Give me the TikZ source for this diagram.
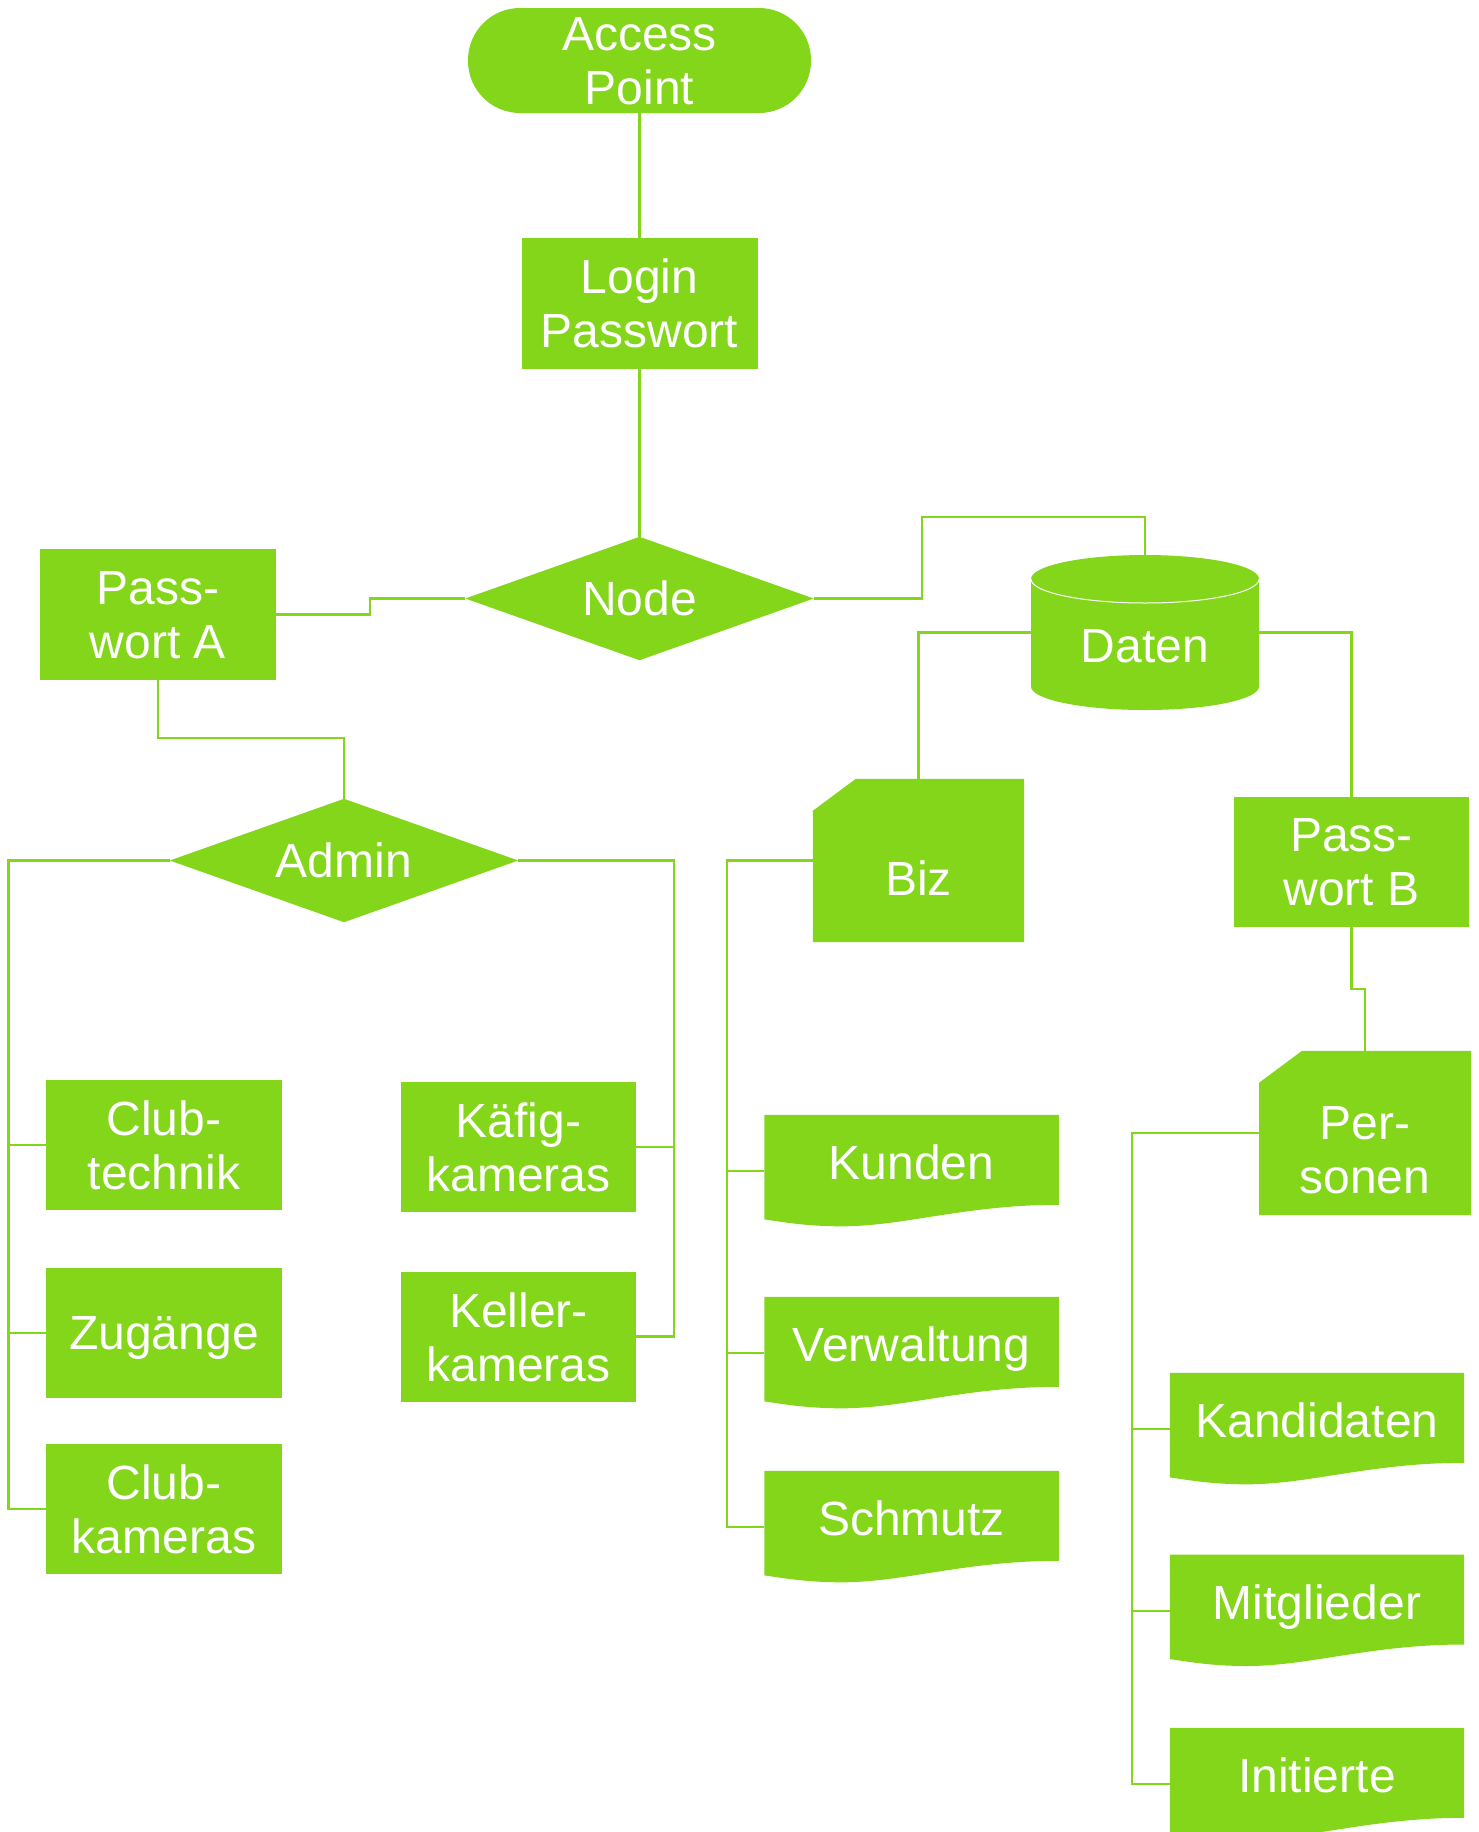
\documentclass[tikz,border=0pt]{standalone}
\usepackage{fontspec}
\setmainfont{Liberation Sans}
\usetikzlibrary{calc}
\definecolor{brand}{RGB}{131,214,26}
\newcommand\docfill[1]{\fill[brand] (#1.north west) -- (#1.north east) -- ++(0,90) .. controls +(-94,0) and +(63,0) .. ($(#1.north west)+(77,111.5)$) .. controls +(-37,0) and +(15,2) .. ($(#1.north west)+(0,104.6)$) -- cycle;}
\newcommand\cardfill[1]{\fill[brand] ($(#1.north west)+(0,32)$) -- ($(#1.north west)+(43,0)$) -- (#1.north east) -- (#1.south east) -- (#1.south west) -- cycle;}
\newcommand\diafill[1]{\fill[brand] (#1.west) -- (#1.north) -- (#1.east) -- (#1.south) -- cycle;}
\begin{document}
\begin{tikzpicture}[x=1pt,y=-1pt,
  lbl/.style={text=white,font=\fontsize{48}{54}\selectfont,align=center,inner sep=0pt,text depth=0pt},
  boxn/.style={lbl,fill=brand,minimum width=#1},
  ghost/.style={inner sep=0pt,minimum width=#1},
  conn/.style={draw=brand,line width=2.4pt}]
\useasboundingbox (0,0) rectangle (1479,1832);

% top
\node[boxn=343pt,minimum height=105pt,rounded corners=52pt] (ap) at (639.5,60.5) {Access\\Point};
\node[boxn=236pt,minimum height=131pt] (login) at (639.5,303.5) {Login\\Passwort};
\node[ghost=348pt,minimum height=123pt] (nodeD) at (639.5,598.5) {};
\diafill{nodeD}
\node[lbl] (t-node) at (nodeD.center) {Node};
\node[boxn=236pt,minimum height=131pt] (passA) at (158,614.5) {Pass-\\wort A};

% Daten cylinder
\node[ghost=228pt,minimum height=155pt] (daten) at (1145,632.5) {};
\fill[brand] (1031,579) -- (1031,686.5) arc[start angle=180,end angle=360,x radius=114pt,y radius=23.5pt] -- (1259,579) arc[start angle=0,end angle=180,x radius=114pt,y radius=24pt] -- cycle;
\draw[white,line width=1pt] (1031,579) arc[start angle=180,end angle=360,x radius=114pt,y radius=24pt];
\node[lbl] (t-daten) at (1145,646) {Daten};

% Biz and Passwort B
\node[ghost=211pt,minimum height=163pt] (biz) at (918.5,860.5) {};
\cardfill{biz}
\node[lbl] (t-biz) at (918.5,878) {Biz};
\node[boxn=235pt,minimum height=130.5pt] (passB) at (1351.5,862) {Pass-\\wort B};
\node[ghost=211.6pt,minimum height=164pt] (pers) at (1365,1133) {};
\cardfill{pers}
\node[lbl] (t-pers) at (1365,1150) {Per-\\sonen};

% Admin branch
\node[ghost=348pt,minimum height=123pt] (admin) at (344,860.5) {};
\diafill{admin}
\node[lbl] (t-admin) at (admin.center) {Admin};
\node[boxn=236pt,minimum height=130pt] (clubt) at (164,1145) {Club-\\technik};
\node[boxn=236pt,minimum height=130pt] (zug) at (164,1333) {Zugänge};
\node[boxn=236pt,minimum height=130pt] (clubk) at (164,1509) {Club-\\kameras};
\node[boxn=235pt,minimum height=130pt] (kaefig) at (518.5,1147) {Käfig-\\kameras};
\node[boxn=235pt,minimum height=130pt] (keller) at (518.5,1336.6) {Keller-\\kameras};

% document shapes
\node[ghost=294pt,minimum height=112pt] (kunden) at (911.6,1171) {};
\node[ghost=294pt,minimum height=112pt] (verw) at (911.6,1353) {};
\node[ghost=294pt,minimum height=112pt] (schm) at (911.6,1527) {};
\node[ghost=294pt,minimum height=112pt] (kand) at (1317,1429) {};
\node[ghost=294pt,minimum height=112pt] (mitg) at (1317,1610.7) {};
\node[ghost=294pt,minimum height=112pt] (init) at (1317,1784) {};
\docfill{kunden}\docfill{verw}\docfill{schm}\docfill{kand}\docfill{mitg}\docfill{init}
\node[lbl] (t-kunden) at (911.6,1162) {Kunden};
\node[lbl] (t-verw) at (911.6,1344) {Verwaltung};
\node[lbl] (t-schm) at (911.6,1518) {Schmutz};
\node[lbl] (t-kand) at (1317,1420) {Kandidaten};
\node[lbl] (t-mitg) at (1317,1601.7) {Mitglieder};
\node[lbl] (t-init) at (1317,1775) {Initierte};

% connectors
\coordinate (b1) at (370,598.5);
\coordinate (b2) at (922,517);
\coordinate (b3) at (1351.5,989);
\coordinate (b4) at (158,738);
\coordinate (lb) at (8.6,860.5);
\coordinate (rb) at (674,860.5);
\coordinate (bb) at (727,860.5);
\coordinate (pb) at (1132,1133);
\draw[conn] (ap.south) -- (login.north);
\draw[conn] (login.south) -- (nodeD.north);
\draw[conn] (nodeD.west) -- (b1) |- (passA.east);
\draw[conn] (nodeD.east) -| (b2) -- (b2 -| daten.north) -- (daten.north);
\draw[conn] (daten.west) -| (biz.north);
\draw[conn] (daten.east) -| (passB.north);
\draw[conn] (passB.south) -- (b3) -| (pers.north);
\draw[conn] (passA.south) -- (b4) -| (admin.north);
\draw[conn] (admin.west) -- (lb) |- (clubt.west);
\draw[conn] (lb) |- (zug.west);
\draw[conn] (lb) |- (clubk.west);
\draw[conn] (admin.east) -- (rb) |- (kaefig.east);
\draw[conn] (rb) |- (keller.east);
\draw[conn] (biz.west) -- (bb) |- (kunden.west);
\draw[conn] (bb) |- (verw.west);
\draw[conn] (bb) |- (schm.west);
\draw[conn] (pers.west) -- (pb) |- (kand.west);
\draw[conn] (pb) |- (mitg.west);
\draw[conn] (pb) |- (init.west);
\end{tikzpicture}
\end{document}
